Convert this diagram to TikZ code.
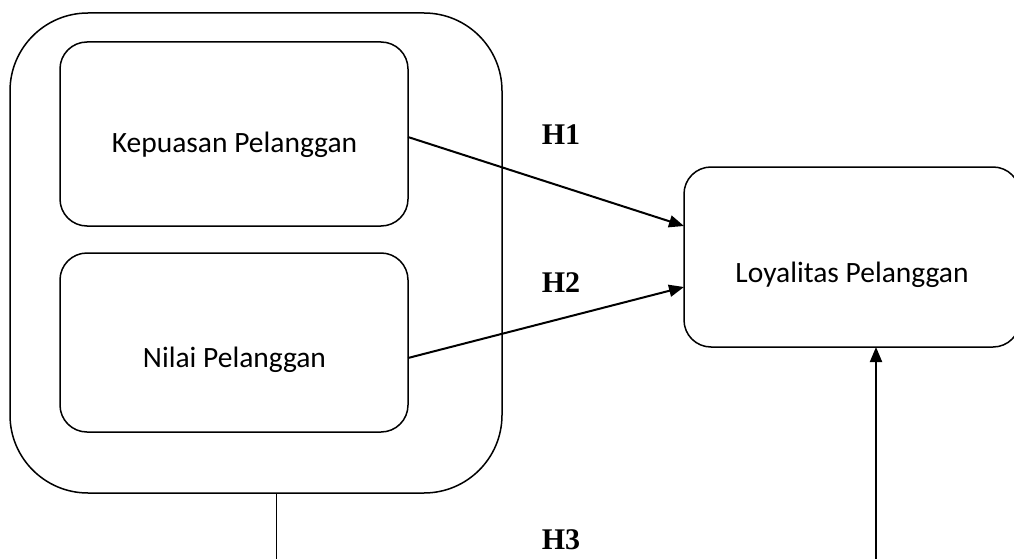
\documentclass[tikz,border=0pt]{standalone}
\usepackage{fontspec}
\setmainfont{Carlito}
\newfontfamily\hfont{Liberation Serif}
\usetikzlibrary{positioning,arrows.meta}

\begin{document}
\begin{tikzpicture}[x=1pt, y=-1pt,
    grp/.style={draw, line width=1.5pt, rounded corners=78pt, inner sep=0pt, outer sep=0pt},
    box/.style={draw, line width=1.5pt, rounded corners=27pt, inner sep=0pt, outer sep=0pt},
    txt/.style={anchor=base, inner sep=0pt, font=\fontsize{29.5}{35}\selectfont},
    hyp/.style={anchor=base, inner sep=0pt, font=\hfont\bfseries\fontsize{30}{36}\selectfont},
    arrow/.style={-{Triangle[length=15pt, width=12pt]}, line width=2pt},
]
\useasboundingbox (0,0) rectangle (1014,559);
\node[grp, minimum width=492pt, minimum height=480pt] (grp) at (256,253) {};
\node[box, minimum width=348pt, minimum height=184pt] (kp) at (234,134) {};
\node[box, minimum width=348pt, minimum height=179pt] (np) at (234,342.5) {};
\node[box, minimum width=336pt, minimum height=180pt] (lp) at (852,257) {};
\node[txt] (kpt) at (234.5,152) {Kepuasan Pelanggan};
\node[txt] (npt) at (234.5,367) {Nilai Pelanggan};
\node[txt] (lpt) at (852,282) {Loyalitas Pelanggan};
\node[hyp] (h1) at (561,144) {H1};
\node[hyp] (h2) at (561,292) {H2};
\node[hyp] (h3) at (561,549) {H3};
\coordinate (bl) at (276.5,562);
\coordinate (br) at (876,562);
\draw[arrow] ([yshift=-3pt]kp.east) -- ([yshift=31pt]lp.west);
\draw[arrow] ([yshift=-15.5pt]np.east) -- ([yshift=-30pt]lp.west);
\draw[line width=1.3pt] ([xshift=20.5pt]grp.south) -- (bl);
\draw[arrow] (br) -- ([xshift=24pt]lp.south);
\end{tikzpicture}
\end{document}
